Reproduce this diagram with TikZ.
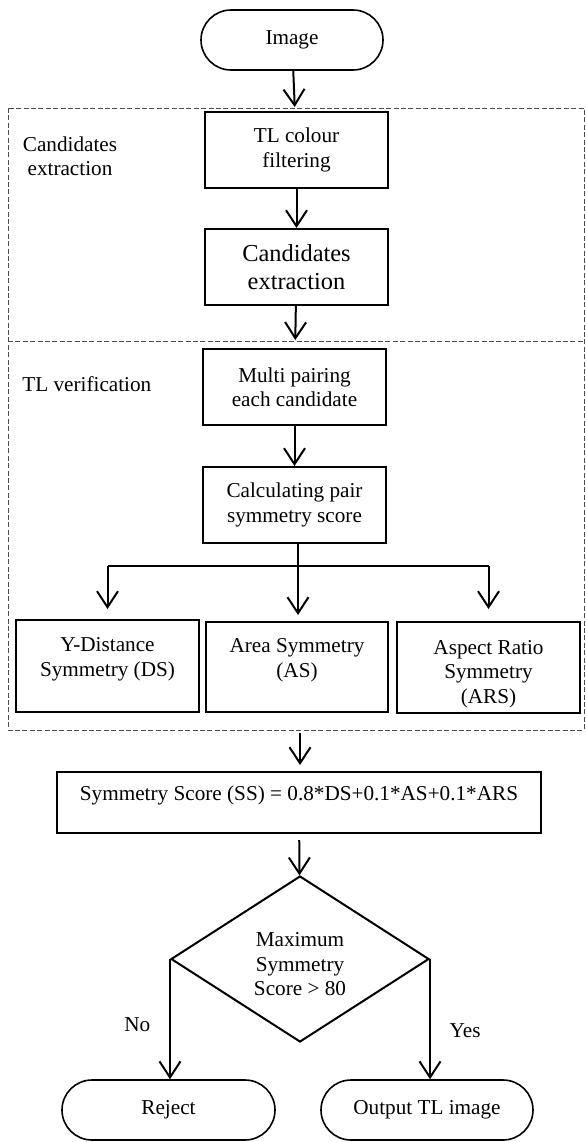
\documentclass[tikz,border=0pt]{standalone}
\usepackage{fontspec}
\setmainfont{Liberation Serif}
\usepackage{tikz}
\usetikzlibrary{shapes,arrows.meta,positioning,calc}

\begin{document}
\begin{tikzpicture}[
    x=0.5pt,
    y=-0.5pt,
    block/.style={
        rectangle,
        draw,
        line width=1pt,
        minimum width=91.5pt,
        minimum height=38pt,
        align=center,
        inner sep=1pt,
        font=\fontsize{10.6}{12.2}\selectfont
    },
    term/.style={
        rectangle,
        draw,
        line width=0.8pt,
        rounded corners=15pt,
        minimum height=30pt,
        font=\fontsize{10.6}{12.2}\selectfont
    },
    decision/.style={
        diamond,
        draw,
        line width=1pt,
        inner sep=0pt,
        minimum width=129pt,
        minimum height=83pt,
        align=center,
        font=\fontsize{10.6}{12.2}\selectfont
    },
    group/.style={
        draw=black!70,
        line width=0.4pt,
        dash pattern=on 2.5pt off 1.2pt
    },
    line/.style={
        draw,
        line width=1pt,
        -{Straight Barb[length=8pt,width=10.5pt,line width=1pt]}
    }
]
\useasboundingbox (0,0) rectangle (585,1142);

% Groups
\draw [group] (8,108) rectangle (584,730);
\draw [group] (8,341) -- (584,341);
\node [align=center, font=\fontsize{10.6}{12.2}\selectfont] (grpa) at (70,156) {Candidates\\extraction};
\node [anchor=west, inner sep=0pt, font=\fontsize{10.6}{12.2}\selectfont] (grpb) at (22,384) {TL verification};

% Nodes
\node [term, minimum width=91pt] (image) at (292,40) {Image};
\node [block] (filter) at (296.5,150) {TL colour\\filtering};
\node [block, font=\fontsize{12.2}{14}\selectfont] (cands) at (296.5,267) {Candidates\\extraction};
\node [block] (pairing) at (294.5,387) {Multi pairing\\each candidate};
\node [block] (calc) at (294.5,505) {Calculating pair\\symmetry score};
\node [block, minimum height=46pt] (ds) at (107.5,666) {Y-Distance\\Symmetry (DS)\\[-3pt]};
\node [block, minimum width=91pt, minimum height=45pt] (as) at (297,667) {Area Symmetry\\(AS)\\[-3pt]};
\node [block, minimum height=45.5pt] (ars) at (488.5,667.5) {\strut\\[-7pt]Aspect Ratio\\Symmetry\\(ARS)};
\node [block, minimum width=242pt, minimum height=30.5pt] (ss) at (299,802.5) {Symmetry Score (SS) = 0.8*DS+0.1*AS+0.1*ARS\\[-3pt]};
\node [decision] (max) at (300,959) {\\Maximum\\Symmetry\\Score {>} 80};
\node [term, minimum width=106.5pt] (reject) at (168.5,1110) {Reject};
\node [term, minimum width=106pt] (output) at (427,1110) {Output TL image};

\coordinate (split) at (298,566);

% Edges
\path [line, shorten >=2pt] (image) -- (filter);
\path [line] (filter) -- (cands);
\path [line, shorten >=4pt] (cands) -- (pairing);
\path [line] (pairing) -- (calc);
\draw [line width=1pt] (calc.south -| split) -- (split);
\draw [line width=1pt] (split -| ds) -- (split -| ars);
\path [line, shorten >=5pt] (split -| ds) -- (ds.north);
\path [line, shorten >=3pt] (split) -- (split |- as.north);
\path [line, shorten >=6pt] (split -| ars) -- (ars.north);
\path [line, shorten <=10pt, shorten >=3pt] ($(as.south)+(3,0)$) -- ($(ss.north)+(1,0)$);
\path [line, shorten <=3pt] (ss) -- (max);
\path [line] (max.west) -- node [left=6pt, pos=0.55, font=\fontsize{10.6}{12.2}\selectfont] {No} (max.west |- reject.north);
\path [line] (max.east) -- node [right=6pt, pos=0.6, font=\fontsize{10.6}{12.2}\selectfont] {Yes} (max.east |- output.north);

\end{tikzpicture}
\end{document}
